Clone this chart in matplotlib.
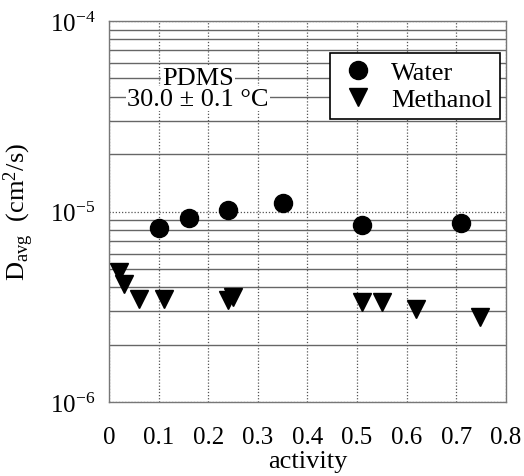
import matplotlib
matplotlib.use("Agg")
import matplotlib.pyplot as plt
from matplotlib.ticker import FixedLocator, NullFormatter

water_x = [0.101, 0.161, 0.240, 0.351, 0.509, 0.709]
water_y = [8.2e-6, 9.2e-6, 1.02e-5, 1.11e-5, 8.5e-6, 8.75e-6]
meth_x = [0.021, 0.030, 0.061, 0.110, 0.240, 0.250, 0.509, 0.550, 0.619, 0.748]
meth_y = [4.8e-6, 4.14e-6, 3.49e-6, 3.49e-6, 3.45e-6, 3.54e-6, 3.34e-6, 3.34e-6, 3.08e-6, 2.78e-6]
xticks = [0, 0.1, 0.2, 0.3, 0.4, 0.5, 0.6, 0.7, 0.8]
xticklabels = ["0", "0.1", "0.2", "0.3", "0.4", "0.5", "0.6", "0.7", "0.8"]
yticks = [1e-6, 1e-5, 1e-4]
yticklabels = [r"$10^{-6}$", r"$10^{-5}$", r"$10^{-4}$"]

plt.rcParams['font.family'] = ['Liberation Serif', 'DejaVu Serif']
plt.rcParams['mathtext.fontset'] = 'custom'
plt.rcParams['mathtext.rm'] = 'Liberation Serif'
plt.rcParams['mathtext.it'] = 'Liberation Serif'

fig = plt.figure(figsize=(5.24, 4.77), dpi=100)
ax = fig.add_axes([0.208, 0.155, 0.7576, 0.799])
ax.set_yscale('log')
ax.set_xlim(0, 0.8)
ax.set_ylim(1e-6, 1e-4)

ax.set_xticks(xticks)
ax.set_xticklabels(xticklabels, fontsize=18)
ax.set_yticks(yticks)
ax.set_yticklabels(yticklabels, fontsize=18)
minors = [m * 10.0**e for e in (-6, -5) for m in range(2, 10)]
ax.yaxis.set_minor_locator(FixedLocator(minors))
ax.yaxis.set_minor_formatter(NullFormatter())
ax.tick_params(which='both', length=0)
ax.tick_params(axis='x', pad=17)
ax.tick_params(axis='y', pad=10)

ax.grid(True, which='minor', axis='y', color='#666666', linestyle='-', linewidth=1.0)
ax.grid(True, which='major', axis='y', color='#555555', linestyle=(0, (1, 1.5)), linewidth=0.9)
ax.grid(True, which='major', axis='x', color='#555555', linestyle=(0, (1, 1.5)), linewidth=0.9)
for s in ax.spines.values():
    s.set_color('#777777')
    s.set_linewidth(1.0)

ax.plot(water_x, water_y, 'o', color='black', markersize=13, label='Water', zorder=3)
ax.plot(meth_x, meth_y, 'v', color='black', markersize=13, label='Methanol', zorder=3)

bb = dict(facecolor='white', edgecolor='none', pad=1)
ax.text(0.179, 0.850, 'PDMS', transform=ax.get_xaxis_transform(), ha='center', va='center', fontsize=19, bbox=bb)
ax.text(0.179, 0.796, '30.0 ± 0.1 °C', transform=ax.get_xaxis_transform(), ha='center', va='center', fontsize=19, bbox=bb)

leg = ax.legend(loc='upper right', bbox_to_anchor=(0.985, 0.916), fontsize=19, frameon=True, fancybox=False,
                edgecolor='black', framealpha=1, handletextpad=0.5, borderpad=0.3, labelspacing=0.12,
                handlelength=1.5, borderaxespad=0)
leg.get_frame().set_linewidth(1.2)

ax.set_xlabel('activity', fontsize=19, labelpad=2)
ax.set_ylabel(r'D$_{\mathrm{avg}}$  (cm$^2$/s)', fontsize=19, labelpad=10)

fig.savefig('out.png', dpi=100)
